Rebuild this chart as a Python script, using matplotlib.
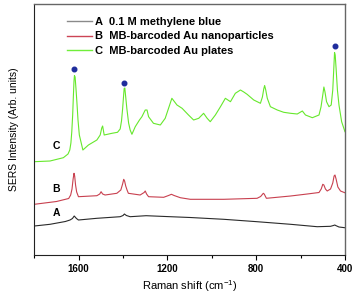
import matplotlib
matplotlib.use('Agg')
import matplotlib.pyplot as plt
from matplotlib.lines import Line2D
from matplotlib.ticker import MultipleLocator

plt.rcParams['font.family'] = ['Liberation Sans', 'DejaVu Sans']

# Spectra (Raman shift in cm-1, intensity in arb. units)
shift_a = [1800, 1729, 1660, 1639, 1628, 1620, 1610, 1601, 1518, 1413, 1400,
           1394, 1385, 1368, 1296, 1187, 1097, 946, 796, 645, 525, 465,
           452, 446, 440, 427, 401]
int_a = [29, 30.7, 33.5, 35, 36.5, 39, 36.5, 35, 36.7, 38.3, 39.5,
         41, 39.5, 38.3, 39.3, 38.3, 37.5, 35.7, 33.3, 30.7, 28.3, 28.7,
         29.5, 30, 29.3, 28, 27.3]

shift_b = [1800, 1700, 1645, 1636, 1630, 1625, 1621, 1618, 1614, 1609, 1601,
           1518, 1505, 1499, 1492, 1481, 1428, 1410, 1402, 1397, 1393, 1388,
           1382, 1376, 1323, 1305, 1300, 1294, 1285, 1217, 1195, 1182, 1170,
           1142, 1097, 946, 796, 780, 768, 764, 754, 645, 570, 517, 507,
           500, 495, 488, 480, 465, 455, 449, 445, 440, 432, 420, 401]
int_b = [50.7, 53.5, 56.5, 60, 66, 76, 81.7, 79, 70, 63, 58.3,
         59.3, 61, 63.3, 61, 60, 61.7, 65, 71, 75.7, 74, 69,
         65, 61.7, 60, 62.5, 64, 61, 58.3, 57.7, 59.5, 60.7, 59.5,
         57.3, 55.7, 55.7, 56.7, 58.5, 61.7, 61, 56.7, 59, 61, 62.5, 66,
         70.7, 70, 66, 64, 66, 72, 79, 80, 76, 68, 64, 62.3]

shift_c = [1800, 1729, 1669, 1648, 1640, 1635, 1631, 1627, 1624, 1621, 1619,
           1616, 1612, 1608, 1603, 1597, 1581, 1556, 1518, 1503, 1496, 1492,
           1485, 1450, 1425, 1413, 1407, 1402, 1398, 1395, 1392, 1388, 1383,
           1375, 1368, 1360, 1345, 1326, 1315, 1300, 1292, 1285, 1263, 1232,
           1210, 1195, 1180, 1157, 1134, 1105, 1082, 1059, 1037, 1021, 1007,
           984, 961, 939, 916, 894, 871, 856, 841, 811, 781, 772, 766,
           762, 757, 750, 736, 705, 676, 645, 615, 592, 578, 547, 517,
           508, 500, 495, 490, 483, 472, 462, 455, 450, 447, 444, 440,
           434, 427, 415, 400]
int_c = [93.3, 94, 97.3, 101, 105, 112, 123.3, 140, 158, 174, 179.5,
         178, 166, 153, 135, 120, 105, 110, 115, 120, 127, 129,
         120, 121.7, 122.7, 126, 134, 146, 158, 166.5, 167, 158, 146.7,
         132, 125, 120.7, 128.3, 135, 138.3, 145, 145, 138.3, 131.7, 130,
         136.7, 146.7, 156.7, 150, 146.7, 140, 135, 136.7, 141.7, 136.7, 133.3,
         140, 148.3, 156.7, 153.3, 161.7, 165, 163, 160.7, 155, 151.7, 158, 166,
         169.5, 165, 156.7, 148.3, 145, 142.7, 141.7, 141, 144, 140, 137.3, 140,
         148, 160, 168, 163, 153.3, 148.3, 150, 165, 188, 202.5, 200, 186.7,
         165, 150, 133.3, 123.3]

# marked methylene blue bands
dot_shift = [1620, 1394, 447]
dot_int = [185.7, 171.7, 209.3]

series_names = ['A  0.1 M methylene blue',
                'B  MB-barcoded Au nanoparticles',
                'C  MB-barcoded Au plates']
series_colors = ['#2a2a2a', '#c8404f', '#66e82c']
legend_colors = ['#8a8a8a', '#cc4455', '#70ee3a']

fig = plt.figure(figsize=(3.56, 2.96), dpi=100)
ax = fig.add_axes([0.0963, 0.1385, 0.8727, 0.848])

ax.plot(shift_a, int_a, color=series_colors[0], lw=0.8)
ax.plot(shift_b, int_b, color=series_colors[1], lw=0.8)
ax.plot(shift_c, int_c, color=series_colors[2], lw=0.8)
ax.plot(dot_shift, dot_int, 'o', color='#1f2d9c', markersize=3.3, zorder=5)

for lab, yy in [('C', 109.3), ('B', 66), ('A', 41.7)]:
    ax.text(1702, yy, lab, fontsize=7.5, fontweight='bold', ha='center',
            va='center')

ax.set_xlim(1800, 400)
ax.set_ylim(0, 251)
ax.xaxis.set_major_locator(MultipleLocator(400))
ax.xaxis.set_minor_locator(MultipleLocator(200))
ax.tick_params(axis='x', which='major', direction='out', length=3.5,
               width=0.8, labelsize=7, pad=3)
ax.tick_params(axis='x', which='minor', direction='out', length=2.5, width=0.8)
for t in ax.get_xticklabels():
    t.set_fontweight('bold')
ax.set_yticks([])

for side in ['left', 'bottom']:
    ax.spines[side].set_color('#222222')
    ax.spines[side].set_linewidth(0.8)
for side in ['top', 'right']:
    ax.spines[side].set_color('#666666')
    ax.spines[side].set_linewidth(1.0)

ax.set_xlabel(r'Raman shift (cm$^{\mathregular{-1}}$)', fontsize=8, labelpad=3)
ax.set_ylabel('SERS Intensity (Arb. units)', fontsize=7.5, labelpad=11)

handles = [Line2D([0], [0], color=c, lw=1.0) for c in legend_colors]
ax.legend(handles, series_names, loc='upper left',
          bbox_to_anchor=(0.105, 0.949), frameon=False,
          prop={'size': 8, 'weight': 'bold'}, handlelength=2.25,
          handletextpad=0.3, labelspacing=0.42, borderaxespad=0,
          borderpad=0)

plt.savefig('out.png', dpi=100)
